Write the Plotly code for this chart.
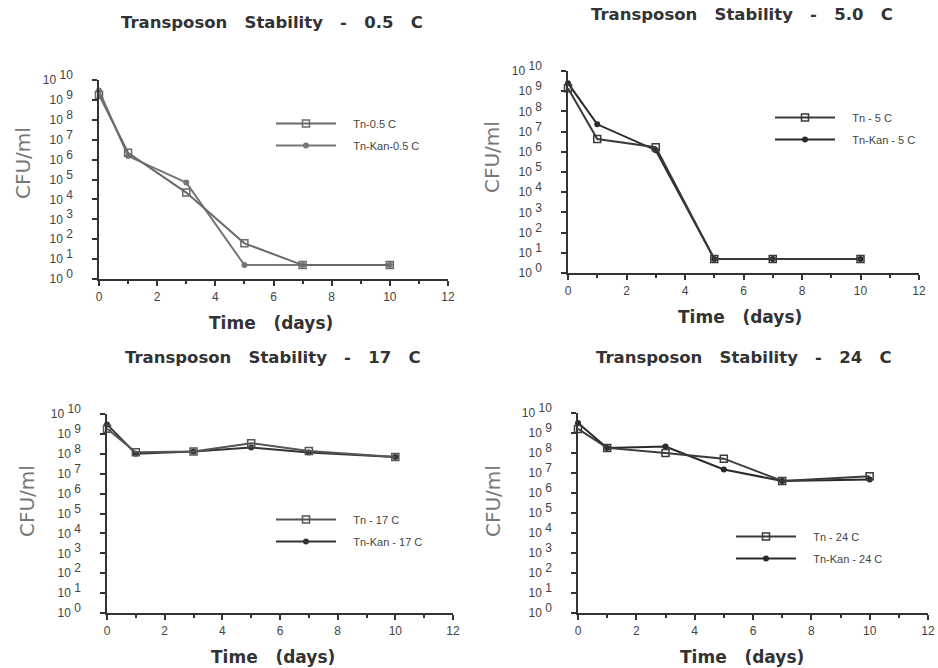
import plotly.graph_objects as go

W, H = 938, 668

days = [0, 1, 3, 5, 7, 10]

# CFU/ml
tn_05 = [1.8e9, 2.2e6, 2.2e4, 62, 5, 5]
kan_05 = [3.0e9, 1.5e6, 7.0e4, 5, 5, 5]
tn_5 = [1.4e9, 4.3e6, 1.7e6, 5, 5, 5]
kan_5 = [2.5e9, 2.3e7, 1.2e6, 5, 5, 5]
tn_17 = [1.8e9, 1.2e8, 1.3e8, 3.4e8, 1.4e8, 7.0e7]
kan_17 = [3.0e9, 1.0e8, 1.3e8, 2.1e8, 1.15e8, 7.0e7]
tn_24 = [1.6e9, 1.8e8, 1.0e8, 5.2e7, 4.0e6, 6.8e6]
kan_24 = [3.2e9, 1.8e8, 2.1e8, 1.5e7, 4.0e6, 4.8e6]

SP = "\u00a0\u00a0\u00a0"
titles = ["Transposon" + SP + "Stability" + SP + "-" + SP + "0.5" + SP + "C",
          "Transposon" + SP + "Stability" + SP + "-" + SP + "5.0" + SP + "C",
          "Transposon" + SP + "Stability" + SP + "-" + SP + "17" + SP + "C",
          "Transposon" + SP + "Stability" + SP + "-" + SP + "24" + SP + "C"]
tn_names = ["Tn-0.5 C", "Tn - 5 C", "Tn - 17 C", "Tn - 24 C"]
kan_names = ["Tn-Kan-0.5 C", "Tn-Kan - 5 C", "Tn-Kan - 17 C", "Tn-Kan - 24 C"]
tn_series = [tn_05, tn_5, tn_17, tn_24]
kan_series = [kan_05, kan_5, kan_17, kan_24]

x_ticks = [0, 2, 4, 6, 8, 10, 12]
x_minor = [1, 3, 5, 7, 9, 11]
y_exps = list(range(0, 11))
y_tickvals = [10 ** e for e in y_exps]
y_ticktext = ["10 <sup><span style='font-size:12px'>%d</span></sup>" % e for e in y_exps]

# panel boxes in pixels: left, right, top, bottom
boxes = [(99, 448, 80, 279), (568, 919, 71, 273), (107, 453, 414, 613), (578, 928, 413, 613)]
title_pos = [(272, 23), (742, 15), (273, 357), (744, 357)]
xtitle_pos = [(271, 323), (740, 317), (273, 657), (742, 657)]
ytitle_pos = [(23, 163), (492, 157), (27, 501), (493, 501)]
legend_pos = [(271, 109), (770, 103), (271, 505), (731, 522)]

line_colors = [("#6a6a6a", "#777777"), ("#3a3a3a", "#2a2a2a"), ("#555555", "#333333"), ("#3a3a3a", "#2a2a2a")]

fig = go.Figure()
FONT = "Liberation Sans, Arial, sans-serif"
DJ = "DejaVu Sans, sans-serif"

for i in range(4):
    l, r, t, b = boxes[i]
    ax = "" if i == 0 else str(i + 1)
    leg = "legend" if i == 0 else "legend%d" % (i + 1)
    ctn, ckan = line_colors[i]
    fig.add_trace(go.Scatter(
        x=days, y=kan_series[i], name="\u00a0\u00a0\u00a0\u00a0" + kan_names[i], mode="lines+markers",
        line=dict(color=ckan, width=2),
        marker=dict(symbol="circle", size=6, color=ckan),
        xaxis="x" + ax, yaxis="y" + ax, legend=leg, cliponaxis=False,
        legendrank=2, legendgroup="k%d" % i))
    fig.add_trace(go.Scatter(
        x=days, y=tn_series[i], name="\u00a0\u00a0\u00a0\u00a0" + tn_names[i], mode="lines+markers",
        line=dict(color=ctn, width=2),
        marker=dict(symbol="square-open", size=7, color=ctn, line=dict(width=1.5)),
        xaxis="x" + ax, yaxis="y" + ax, legend=leg, cliponaxis=False,
        legendrank=1, legendgroup="t%d" % i))

    xa = dict(domain=[l / W, r / W], range=[0, 12], tickvals=x_ticks,
              ticks="outside", ticklen=5, tickwidth=1.5, tickcolor="#333",
              showline=True, linecolor="#333", linewidth=1.5, showgrid=False,
              zeroline=False, anchor="y" + ax, ticklabelstandoff=1, automargin=False,
              minor=dict(tickvals=x_minor, ticks="outside", ticklen=3,
                         tickcolor="#333", tickwidth=1.5, showgrid=False),
              tickfont=dict(family=FONT, size=12, color="#444"))
    ya = dict(domain=[1 - b / H, 1 - t / H], type="log", range=[0, 10],
              tickvals=y_tickvals, ticktext=y_ticktext,
              ticks="outside", ticklen=5, tickwidth=1.5, tickcolor="#333",
              showline=True, linecolor="#333", linewidth=1.5, showgrid=False,
              zeroline=False, anchor="x" + ax, ticklabelstandoff=17, automargin=False,
              tickfont=dict(family=FONT, size=12, color="#444"))
    fig.update_layout(**{"xaxis" + ax: xa, "yaxis" + ax: ya})

    lx, ly = legend_pos[i]
    fig.update_layout(**{leg: dict(x=lx / W, y=1 - ly / H, xanchor="left", yanchor="top",
                                   bgcolor="rgba(0,0,0,0)", borderwidth=0,
                                   itemwidth=60, tracegroupgap=3,
                                   font=dict(family=FONT, size=11, color="#444"))})

    tx, ty = title_pos[i]
    fig.add_annotation(text="<b>%s</b>" % titles[i], x=tx / W, y=1 - ty / H,
                       xref="paper", yref="paper", showarrow=False,
                       xanchor="center", yanchor="middle",
                       font=dict(family=DJ, size=16.5, color="#333"))
    xx, xy = xtitle_pos[i]
    fig.add_annotation(text="<b>Time\u00a0\u00a0\u00a0(days)</b>", x=xx / W, y=1 - xy / H,
                       xref="paper", yref="paper", showarrow=False,
                       xanchor="center", yanchor="middle",
                       font=dict(family=DJ, size=17, color="#333"))
    yx, yy = ytitle_pos[i]
    fig.add_annotation(text="CFU/ml", x=yx / W, y=1 - yy / H, textangle=-90,
                       xref="paper", yref="paper", showarrow=False,
                       xanchor="center", yanchor="middle",
                       font=dict(family=DJ, size=20, color="#777"))

fig.update_layout(width=W, height=H, margin=dict(l=0, r=0, t=0, b=0, autoexpand=False),
                  paper_bgcolor="white", plot_bgcolor="white", showlegend=True)

fig.write_html("out.html", config={"displayModeBar": False},
               post_script="document.body.style.margin='0';document.body.style.overflow='hidden';")
